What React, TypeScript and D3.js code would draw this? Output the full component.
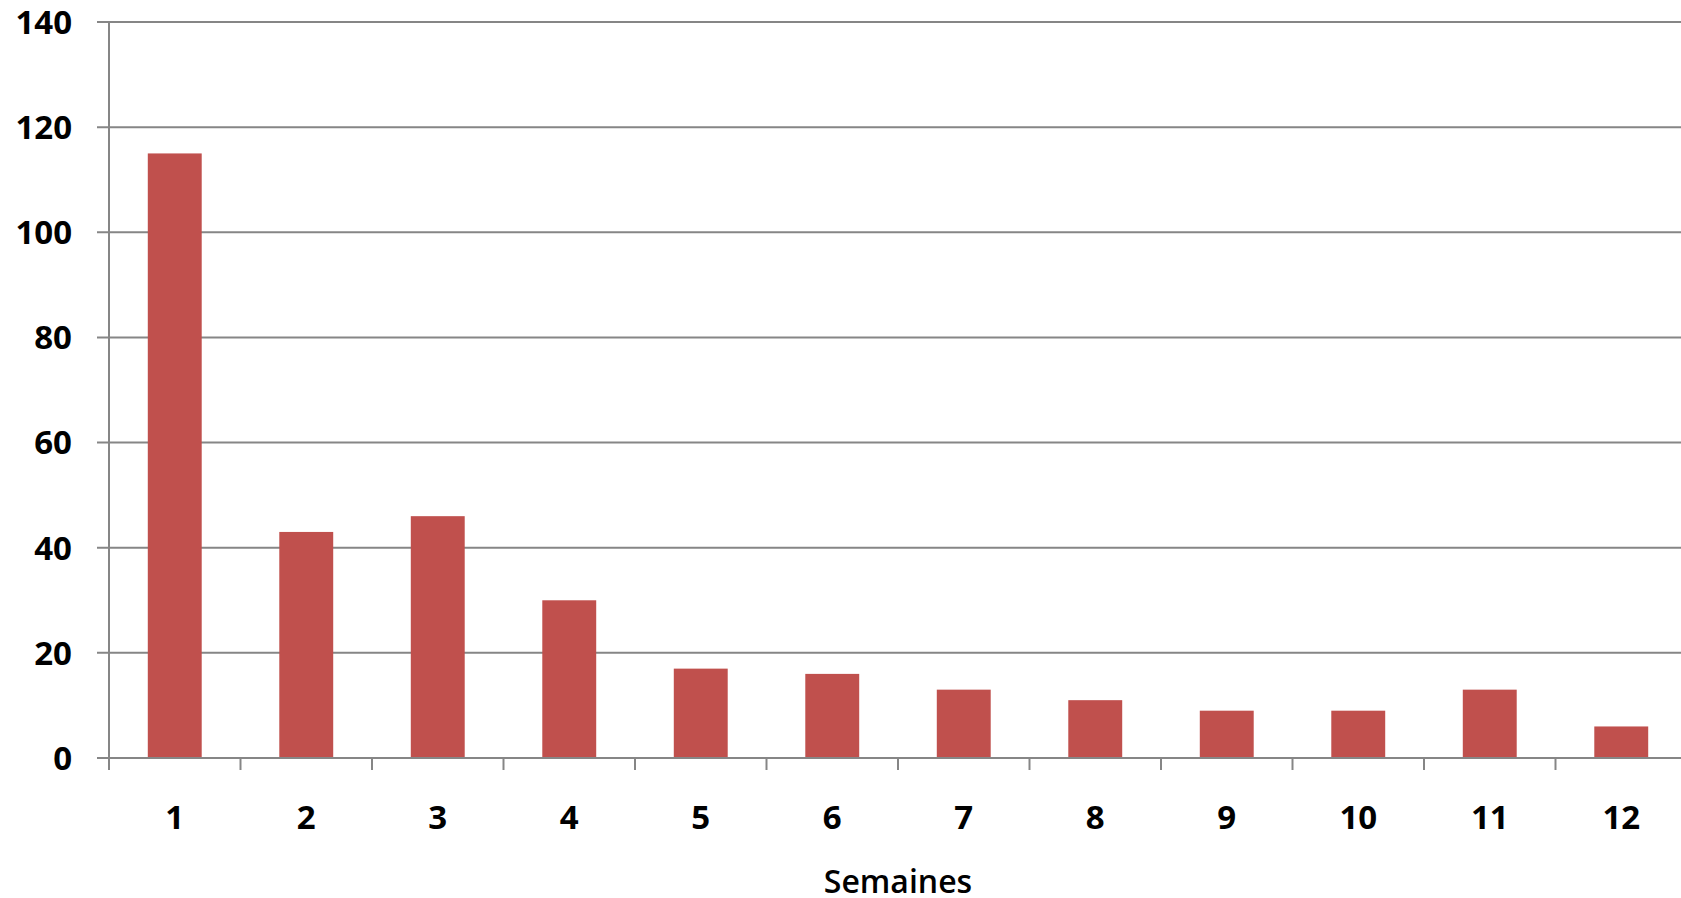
import React from "react";
import * as d3 from "d3";

const categories = ["1", "2", "3", "4", "5", "6", "7", "8", "9", "10", "11", "12"];
const values = [115, 43, 46, 30, 17, 16, 13, 11, 9, 9, 13, 6];
const yTicks = [0, 20, 40, 60, 80, 100, 120, 140];
const xTitle = "Semaines";

export default function App() {
  const W = 1681, H = 898;
  const left = 109, right = 1687, top = 22, bottom = 758;
  const font = "'Open Sans', 'Liberation Sans', sans-serif";
  const x = d3.scaleBand<string>().domain(categories).range([left, right]).paddingInner(0.59).paddingOuter(0.295);
  const step = (right - left) / categories.length;
  const y = d3.scaleLinear().domain([0, 140]).range([bottom, top]);
  const grid = "#868686";
  return (
    <svg width={W} height={H} style={{ position: "absolute", left: 0, top: 0, background: "#fff" }}>
      {yTicks.map((t) => (
        <g key={t}>
          <line x1={97} x2={W} y1={y(t)} y2={y(t)} stroke={grid} strokeWidth={2} />
          <text x={72} y={y(t)} dy="0.36em" textAnchor="end" fontFamily={font} fontWeight={700} fontSize={33}>{t}</text>
        </g>
      ))}
      <line x1={left} x2={left} y1={top} y2={bottom + 12} stroke={grid} strokeWidth={2} />
      {d3.range(categories.length + 1).map((k) => (
        <line key={k} x1={left + k * step} x2={left + k * step} y1={bottom} y2={bottom + 12} stroke={grid} strokeWidth={2} />
      ))}
      {categories.map((c, i) => (
        <rect key={c} x={x(c)} y={y(values[i])} width={x.bandwidth()} height={y(0) - y(values[i]) - 1} fill="#C0504D" />
      ))}
      {categories.map((c) => (
        <text key={c} x={(x(c) as number) + x.bandwidth() / 2} y={829} textAnchor="middle" fontFamily={font} fontWeight={700} fontSize={33}>{c}</text>
      ))}
      <text x={(left + right) / 2} y={893} textAnchor="middle" fontFamily={font} fontWeight={600} fontSize={32}>{xTitle}</text>
    </svg>
  );
}
